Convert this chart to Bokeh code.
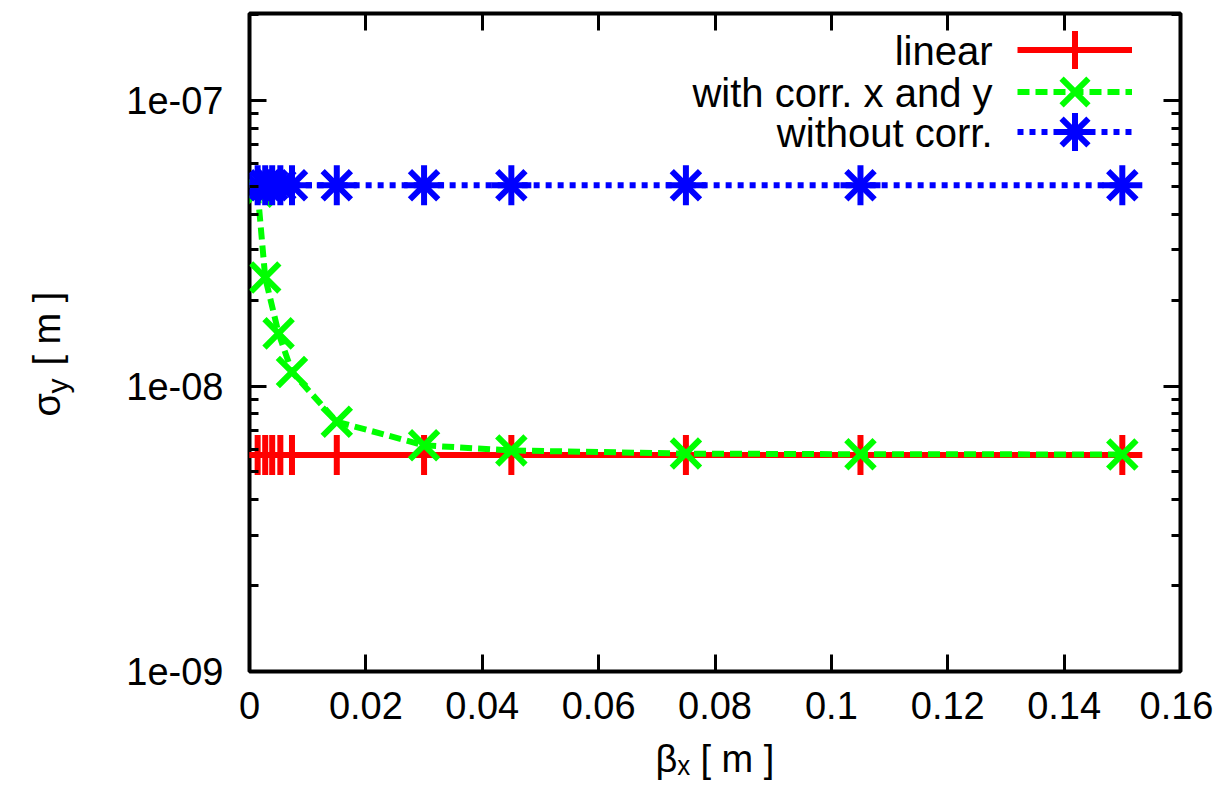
import math
from bokeh.plotting import figure
from bokeh.layouts import row
from bokeh.models import (Range1d, LinearAxis, LogAxis, FixedTicker, CustomJSTickFormatter,
                          Label, Legend, LegendItem)
from bokeh.embed import file_html
from bokeh.resources import INLINE

# ---- data ----
beta_linear = [0.0014, 0.0027, 0.0039, 0.0053, 0.0073, 0.015, 0.030, 0.045, 0.075, 0.105, 0.150]
sigma_linear = [5.74e-9, 5.74e-9, 5.74e-9, 5.74e-9, 5.74e-9, 5.74e-9, 5.74e-9, 5.74e-9, 5.74e-9, 5.74e-9, 5.74e-9]

beta_corr = [0.0014, 0.0027, 0.0050, 0.0073, 0.015, 0.030, 0.045, 0.075, 0.105, 0.150]
sigma_corr = [4.8e-8, 2.4e-8, 1.53e-8, 1.12e-8, 7.5e-9, 6.2e-9, 5.95e-9, 5.8e-9, 5.77e-9, 5.76e-9]

beta_nocorr = [0.0014, 0.0027, 0.0039, 0.0053, 0.0073, 0.015, 0.030, 0.045, 0.075, 0.105, 0.150]
sigma_nocorr = [5.05e-8, 5.05e-8, 5.05e-8, 5.05e-8, 5.05e-8, 5.05e-8, 5.05e-8, 5.05e-8, 5.05e-8, 5.05e-8, 5.05e-8]

x_ticks = [0.0, 0.02, 0.04, 0.06, 0.08, 0.10, 0.12, 0.14, 0.16]
y_major = [1e-9, 1e-8, 1e-7]
y_minor = [2e-9, 3e-9, 4e-9, 5e-9, 6e-9, 7e-9, 8e-9, 9e-9,
           2e-8, 3e-8, 4e-8, 5e-8, 6e-8, 7e-8, 8e-8, 9e-8, 2e-7]
legend_labels = ["linear", "with corr. x and y", "without corr."]
x_title = "\u03b2\u2093 [ m ]"
y_label = ["\u03c3", "y", "[ m ]"]

FONT = "Liberation Sans"
TICK_FS = "38px"
LEG_FS = "40px"
YW = 80          # width of the strip holding the y-axis title
FRAME_L = 249
FRAME_T = 13
FRAME_H = 658
FRAME_W = 931

p = figure(frame_width=FRAME_W, frame_height=FRAME_H,
           min_border_left=FRAME_L - YW, min_border_right=33, min_border_top=FRAME_T,
           min_border_bottom=100,
           x_range=Range1d(0, 0.16), y_range=Range1d(1e-9, 2.02e-7),
           y_axis_type="log", output_backend="svg", toolbar_location=None, tools="")
p.background_fill_color = "white"
p.border_fill_color = "white"
p.xgrid.grid_line_color = None
p.ygrid.grid_line_color = None
p.outline_line_color = "black"
p.outline_line_width = 4

xfmt = CustomJSTickFormatter(code="return String(parseFloat(tick.toFixed(4)));")
yfmt = CustomJSTickFormatter(code="""
const e = Math.round(Math.log10(tick));
return '1e' + (e < 0 ? '-' : '+') + String(Math.abs(e)).padStart(2, '0');
""")
blank = CustomJSTickFormatter(code="return '';")


def style_axis(ax, labels=True):
    ax.axis_line_color = None
    ax.major_tick_in = 17
    ax.major_tick_out = 0
    ax.minor_tick_in = 9
    ax.minor_tick_out = 0
    ax.major_tick_line_width = 3
    ax.minor_tick_line_width = 3
    ax.major_tick_line_color = "black"
    ax.minor_tick_line_color = "black"
    ax.major_label_text_font = FONT
    ax.major_label_text_color = "black"
    if labels:
        ax.major_label_text_font_size = TICK_FS
    else:
        ax.major_label_text_font_size = "0px"
        ax.major_label_standoff = 0


xb = p.xaxis[0]
xb.ticker = FixedTicker(ticks=x_ticks, minor_ticks=[])
xb.formatter = xfmt
style_axis(xb)
xb.major_label_standoff = 20
xb.axis_label = x_title
xb.axis_label_text_font = FONT
xb.axis_label_text_font_size = "38px"
xb.axis_label_text_font_style = "normal"
xb.axis_label_text_color = "black"
xb.axis_label_standoff = 16

yl = p.yaxis[0]
yl.ticker = FixedTicker(ticks=y_major, minor_ticks=y_minor)
yl.formatter = yfmt
style_axis(yl)
yl.major_label_standoff = 26

xt = LinearAxis(ticker=FixedTicker(ticks=x_ticks, minor_ticks=[]), formatter=blank)
style_axis(xt, labels=False)
p.add_layout(xt, "above")

yr = LogAxis(ticker=FixedTicker(ticks=y_major, minor_ticks=y_minor), formatter=blank)
style_axis(yr, labels=False)
p.add_layout(yr, "right")

LW = 6
MS = 40

r_line = p.line(beta_linear, sigma_linear, line_color="#ff0000", line_width=LW)
r_pts = p.scatter(beta_linear, sigma_linear, marker="cross", size=MS, line_color="#ff0000", line_width=LW)

g_line = p.line(beta_corr, sigma_corr, line_color="#00ff00", line_width=LW, line_dash="12 6")
g_pts = p.scatter(beta_corr, sigma_corr, marker="x", size=MS, line_color="#00ff00", line_width=LW)

b_line = p.line(beta_nocorr, sigma_nocorr, line_color="#0000ff", line_width=LW, line_dash="6 6")
b_pts1 = p.scatter(beta_nocorr, sigma_nocorr, marker="cross", size=MS, line_color="#0000ff", line_width=LW)
b_pts2 = p.scatter(beta_nocorr, sigma_nocorr, marker="x", size=MS, line_color="#0000ff", line_width=LW)

# one legend per entry so the rows can sit close together
groups = [[r_line, r_pts], [g_line, g_pts], [b_line, b_pts1, b_pts2]]
for rends, vy in zip(groups, [574, 532, 492]):
    lg = Legend(items=[LegendItem(label="", renderers=rends)], location=(768, vy),
                glyph_width=115, glyph_height=95, padding=0, margin=0, spacing=0,
                label_standoff=0, label_width=0, label_height=0,
                background_fill_alpha=0, border_line_color=None)
    p.add_layout(lg)

# legend texts (right aligned, left of the sample glyphs)
for txt, yy in zip(legend_labels, [621, 579, 539]):
    p.add_layout(Label(x=743, y=yy, x_units="screen", y_units="screen", text=txt,
                       text_font=FONT, text_font_size=LEG_FS, text_color="black",
                       text_align="right", text_baseline="middle"))

# y axis title strip: same frame height / top border as the main plot
yf = figure(frame_width=YW, frame_height=FRAME_H, x_range=Range1d(0, 1), y_range=Range1d(0, 1),
            x_axis_location=None, y_axis_location=None,
            min_border_left=0, min_border_right=0, min_border_top=FRAME_T, min_border_bottom=0,
            output_backend="svg", toolbar_location=None, tools="")
yf.grid.visible = False
yf.outline_line_color = None
yf.background_fill_color = "white"
yf.border_fill_color = "white"

FB = FRAME_T + FRAME_H   # frame bottom in canvas pixels
yf.add_layout(Label(x=46, y=FB - 416, x_units="screen", y_units="screen", text=y_label[0],
                    text_font=FONT, text_font_size="38px", text_color="black",
                    text_align="left", text_baseline="alphabetic", angle=math.pi / 2))
yf.add_layout(Label(x=57, y=FB - 393, x_units="screen", y_units="screen", text=y_label[1],
                    text_font=FONT, text_font_size="30px", text_color="black",
                    text_align="left", text_baseline="alphabetic", angle=math.pi / 2))
yf.add_layout(Label(x=46, y=FB - 365, x_units="screen", y_units="screen", text=y_label[2],
                    text_font=FONT, text_font_size="38px", text_color="black",
                    text_align="left", text_baseline="alphabetic", angle=math.pi / 2))

layout = row(yf, p, spacing=0)
open("out.html", "w").write(file_html(layout, INLINE))
